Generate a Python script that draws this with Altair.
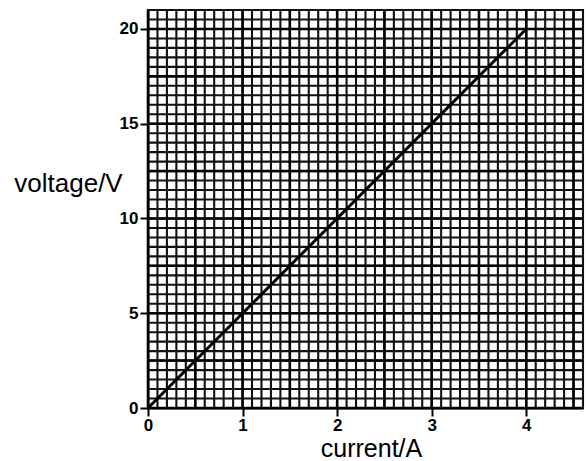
import altair as alt
import pandas as pd

# data
current = [0, 4]
voltage = [0, 20]
x_ticks = [0, 1, 2, 3, 4]
y_ticks = [0, 5, 10, 15, 20]
x_max = 4.6
y_max = 21

# graph-paper grid positions (tick spacing of the paper)
fine_x = [round(i * 0.1, 2) for i in range(0, 47)]
fine_y = [round(i * 0.5, 2) for i in range(0, 43)]
major_x = [round(i * 0.5, 2) for i in range(0, 10)]
major_y = [round(i * 2.5, 2) for i in range(0, 9)]

FONT = "Liberation Sans"

xs = alt.Scale(domain=[0, x_max], nice=False, zero=False)
ys = alt.Scale(domain=[0, y_max], nice=False, zero=False)

x_axis = alt.Axis(values=x_ticks, title="current/A", grid=False, labelFlush=False,
                  domainColor="#000", domainWidth=2, tickColor="#000",
                  tickWidth=2, tickSize=8, labelFont=FONT, labelFontSize=17,
                  labelFontWeight="bold", labelColor="#000", labelPadding=1,
                  titleFont=FONT, titleFontSize=25, titleFontWeight="normal",
                  titleColor="#000", titleX=223, titleY=48,
                  titleBaseline="alphabetic", titleAlign="center")
y_axis = alt.Axis(values=y_ticks, title="voltage/V", grid=False, labelFlush=False,
                  domainColor="#000", domainWidth=2, tickColor="#000",
                  tickWidth=2, tickSize=8, labelFont=FONT, labelFontSize=17,
                  labelFontWeight="bold", labelColor="#000", labelPadding=2,
                  titleFont=FONT, titleFontSize=26, titleFontWeight="normal",
                  titleColor="#000", titleAngle=0, titleX=-80, titleY=173,
                  titleAlign="center", titleBaseline="middle")

line_df = pd.DataFrame({"current": current, "voltage": voltage})

fx = alt.Chart(pd.DataFrame({"current": fine_x})).mark_rule(color="#111", strokeWidth=2.1).encode(
    x=alt.X("current:Q", scale=xs, axis=x_axis))
fy = alt.Chart(pd.DataFrame({"voltage": fine_y})).mark_rule(color="#111", strokeWidth=2.1).encode(
    y=alt.Y("voltage:Q", scale=ys, axis=y_axis))
mx = alt.Chart(pd.DataFrame({"current": major_x})).mark_rule(color="#000", strokeWidth=2.5).encode(
    x=alt.X("current:Q", scale=xs, axis=x_axis))
my = alt.Chart(pd.DataFrame({"voltage": major_y})).mark_rule(color="#000", strokeWidth=2.5).encode(
    y=alt.Y("voltage:Q", scale=ys, axis=y_axis))

line = alt.Chart(line_df).mark_line(color="#000", strokeWidth=3).encode(
    x=alt.X("current:Q", scale=xs, axis=x_axis),
    y=alt.Y("voltage:Q", scale=ys, axis=y_axis),
)

chart = alt.layer(fx, fy, mx, my, line).properties(
    width=435, height=398,
    autosize=alt.AutoSizeParams(type="none"),
    padding={"left": 148, "top": 10, "right": 5, "bottom": 53},
    background="white",
).configure_view(stroke="#000", strokeWidth=2)

chart.save("out.html", embed_options={"renderer": "svg", "actions": False})
